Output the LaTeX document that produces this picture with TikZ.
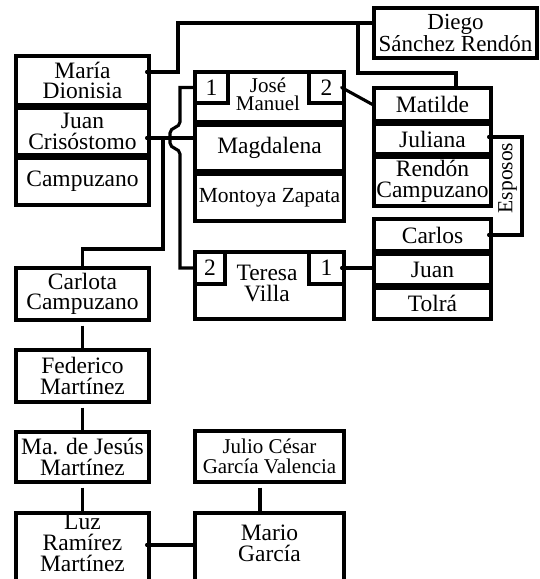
\documentclass[tikz,border=0pt]{standalone}
\usepackage{fontspec}
\setmainfont{Liberation Serif}
\begin{document}
\begin{tikzpicture}[x=1pt,y=-1pt,
  box/.style={draw, line width=3.1pt, inner sep=0pt, align=center,
    font=\fontsize{23.5}{20.5}\selectfont},
  boxtext/.style={inner sep=0pt, align=center, font=\fontsize{23.5}{21}\selectfont},
  link/.style={line width=3.1pt},
  nub/.style={line cap=round},
  small/.style={font=\fontsize{21}{18}\selectfont},
  smaller/.style={font=\fontsize{21}{20}\selectfont},
]
\clip (0,0) rectangle (539,579);

% left stack
\node[box, minimum width=133, minimum height=49] (maria) at (82.5,80.5) {María\\Dionisia};
\node[box, minimum width=133, minimum height=47] (juanc) at (82.5,131.5) {Juan\\Crisóstomo};
\node[box, minimum width=133, minimum height=47] (campuzano) at (82.5,181.5) {Campuzano};

% top right
\node[box, font=\fontsize{23}{20.5}\selectfont, minimum width=163, minimum height=50] (diego) at (455.5,33) {Diego\\Sánchez Rendón};

% right stacks
\node[box, minimum width=117, minimum height=33] (matilde) at (432.5,104.5) {Matilde};
\node[box, minimum width=117, minimum height=30] (juliana) at (432.5,139) {Juliana};
\node[box, minimum width=117, minimum height=49] (rendon) at (432.5,181.5) {Rendón\\Campuzano};
\node[box, minimum width=117, minimum height=32] (carlos) at (432.5,235) {Carlos};
\node[box, minimum width=117, minimum height=31] (juant) at (432.5,269.5) {Juan};
\node[box, minimum width=117, minimum height=31] (tolra) at (432.5,303.5) {Tolrá};

% middle stack
\node[box, minimum width=149, minimum height=50] (jose) at (269.5,97) {};
\node[boxtext, small] (josetext) at (268,94) {José\\Manuel};
\node[box, minimum width=149, minimum height=46] (magdalena) at (269.5,148) {Magdalena};
\node[box, font=\fontsize{21.5}{20}\selectfont, minimum width=149, minimum height=47] (montoya) at (269.5,197.5) {Montoya Zapata};
\node[box, minimum width=33, minimum height=31] (jnum1) at (211.5,87.5) {1};
\node[box, minimum width=35, minimum height=31] (jnum2) at (326.5,87.5) {2};

% Teresa
\node[box, minimum width=149, minimum height=67] (teresa) at (269.5,285.5) {};
\node[boxtext] (teresatext) at (267,283) {Teresa\\Villa};
\node[box, minimum width=30, minimum height=32] (tnum2) at (210,268) {2};
\node[box, minimum width=35, minimum height=32] (tnum1) at (326.5,268) {1};

% descendants
\node[box, minimum width=133, minimum height=52] (carlota) at (82.5,294) {Carlota\\Campuzano};
\node[box, minimum width=133, minimum height=52] (federico) at (82.5,376) {Federico\\Martínez};
\node[box, minimum width=133, minimum height=50] (majesus) at (82.5,457) {Ma. de Jesús\\Martínez};
\node[box, minimum width=133, minimum height=69] (luz) at (82.5,547.5) {};
\node[boxtext] (luztext) at (82.5,543) {Luz\\Ramírez\\Martínez};
\node[box, smaller, minimum width=149, minimum height=51] (julio) at (269.5,456.5) {Julio César\\García Valencia};
\node[box, minimum width=149, minimum height=69] (mario) at (269.5,547.5) {};
\node[boxtext] (mariotext) at (269.5,543) {Mario\\García};

% spouses label
\node[font=\fontsize{21.5}{20}\selectfont, rotate=90] (esposos) at (507.5,178) {Esposos};

% connectors
\coordinate (split) at (358,23);
\coordinate (drop) at (163,138);
\draw[link, nub] ([xshift=-4,yshift=8.5]maria.east) -- (178,72) |- ([yshift=10]diego.west);
\draw[link] (split) |- (456,73) -- ([xshift=23.5]matilde.north);
\draw[link, nub] ([xshift=-4]jnum2.east) -- (matilde.west);
\draw[link, nub] ([xshift=-4,yshift=2]juliana.east) -- (522,137) |- ([xshift=-4]carlos.east);
\draw[link] (jnum1.west) -| (180,122)
  .. controls (180,128) and (170,127) .. (170,133) -- (170,143)
  .. controls (170,149) and (180,148) .. (180,154) |- (tnum2.west);
\draw[link, nub] ([xshift=-4]juanc.east |- 0,138) -- (magdalena.west |- 0,138);
\draw[link] (drop) |- (carlota.north |- 0,249) -- (carlota.north);
\draw[link, nub] ([xshift=-4]tnum1.east) -- (juant.west |- tnum1.east);
\draw[link, shorten <=4pt] (carlota.south) -- (federico.north);
\draw[link, shorten <=4pt] (federico.south) -- (majesus.north);
\draw[link, shorten <=4pt] (majesus.south) -- (luz.north);
\draw[link, shorten <=4pt] ([xshift=-9.5]julio.south) -- ([xshift=-9.5]mario.north);
\draw[link, nub] ([xshift=-4]luz.east |- 0,545) -- (mario.west |- 0,545);
\end{tikzpicture}
\end{document}
